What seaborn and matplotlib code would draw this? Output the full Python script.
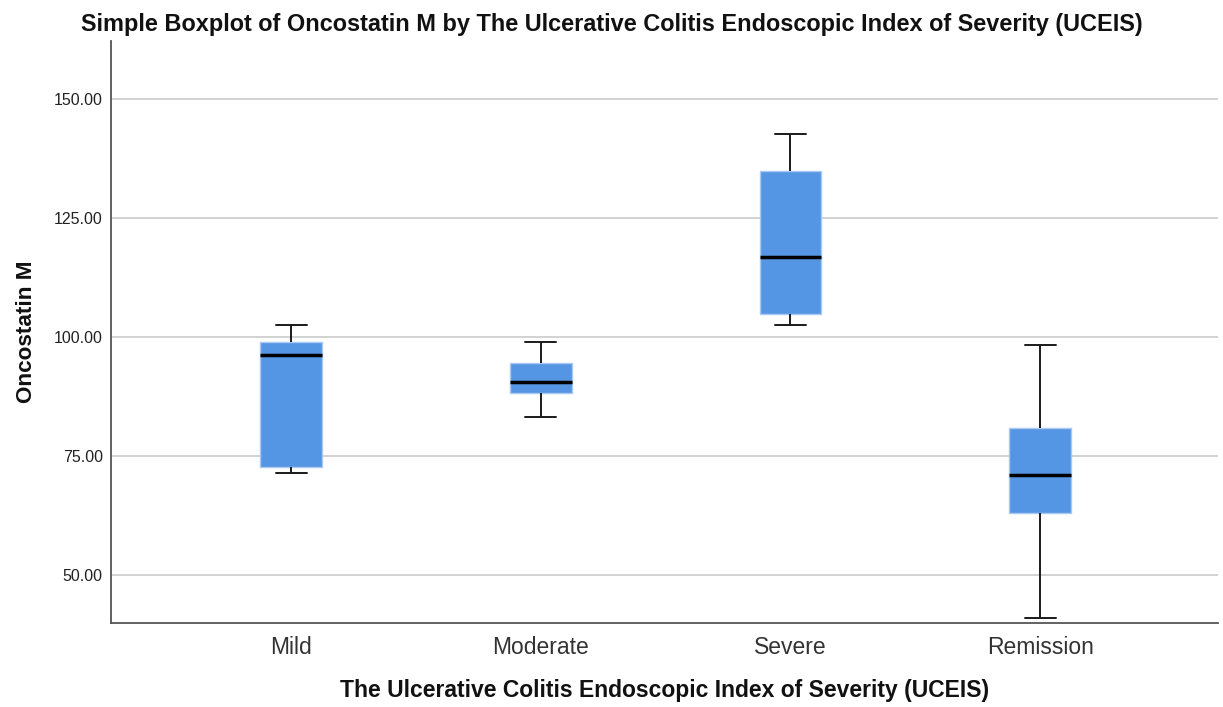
import numpy as np
import pandas as pd
import matplotlib
matplotlib.use("Agg")
import matplotlib.pyplot as plt
import seaborn as sns
from matplotlib.ticker import FormatStrFormatter

# UCEIS groups and the five-number summaries of Oncostatin M in each
categories = ["Mild", "Moderate", "Severe", "Remission"]
whisker_low = [71.5, 83.1, 102.4, 41.1]
q1 = [72.8, 88.3, 104.9, 63.0]
median = [96.2, 90.5, 116.7, 71.1]
q3 = [99.0, 94.5, 134.7, 81.0]
whisker_high = [102.6, 99.0, 142.6, 98.4]
y_ticks = [50, 75, 100, 125, 150]

rows = []
for i, cat in enumerate(categories):
    for v in (whisker_low[i], q1[i], median[i], q3[i], whisker_high[i]):
        rows.append({"UCEIS": cat, "Oncostatin M": v})
df = pd.DataFrame(rows)

sns.set_theme(style="white")
plt.rcParams["font.family"] = ["Liberation Sans", "DejaVu Sans"]

fig = plt.figure(figsize=(12.23, 7.07), dpi=100)
ax = fig.add_axes([0.0908, 0.1188, 0.9051, 0.8228])

ax.set_axisbelow(True)
for t in y_ticks:
    ax.axhline(t, color="#d2d2d2", lw=1.4, zorder=0)

sns.boxplot(
    data=df, x="UCEIS", y="Oncostatin M", order=categories,
    whis=(0, 100), width=0.248, color="#5596e4", saturation=1,
    boxprops=dict(facecolor="#5596e4", edgecolor="#a9c9f2", linewidth=1.0),
    medianprops=dict(color="black", linewidth=2.5),
    whiskerprops=dict(color="#1a1a1a", linewidth=1.4),
    capprops=dict(color="#1a1a1a", linewidth=1.4),
    showfliers=False, ax=ax,
)

ax.set_xlim(-0.721, 3.712)
ax.set_ylim(40, 162)
ax.set_yticks(y_ticks)
ax.yaxis.set_major_formatter(FormatStrFormatter("%.2f"))
ax.tick_params(axis="y", length=0, labelsize=11.5, colors="#222222", pad=6)
ax.tick_params(axis="x", length=0, labelsize=16.5, colors="#333333", pad=9)

for side in ("top", "right"):
    ax.spines[side].set_visible(False)
for side in ("left", "bottom"):
    ax.spines[side].set_color("#555555")
    ax.spines[side].set_linewidth(1.3)

ax.set_xlabel("The Ulcerative Colitis Endoscopic Index of Severity (UCEIS)",
              fontsize=16.5, fontweight="bold", color="#111111", labelpad=15)
ax.set_ylabel("Oncostatin M", fontsize=16.2, fontweight="bold",
              color="#111111", labelpad=12)

fig.text(0.5, 0.966,
         "Simple Boxplot of Oncostatin M by The Ulcerative Colitis Endoscopic Index of Severity (UCEIS)",
         ha="center", va="center", fontsize=16.9, fontweight="bold", color="#111111")

fig.savefig("out.png", dpi=100)
